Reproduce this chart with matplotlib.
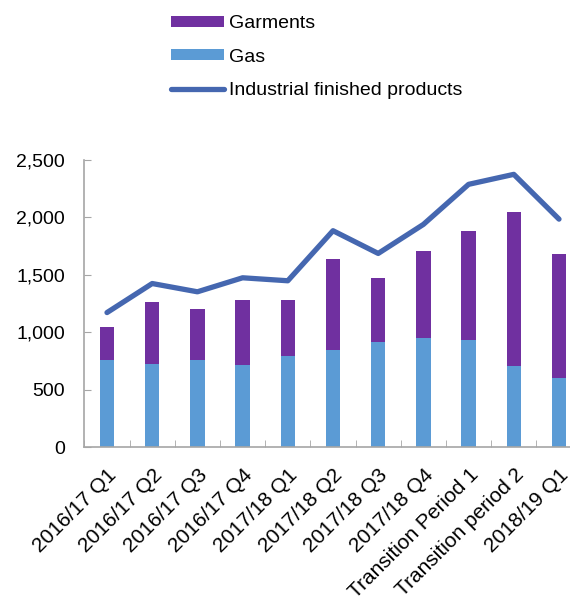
import numpy as np
import matplotlib.pyplot as plt
from matplotlib.ticker import FuncFormatter

plt.rcParams['font.family'] = ['Liberation Sans', 'DejaVu Sans']

categories = ['2016/17 Q1', '2016/17 Q2', '2016/17 Q3', '2016/17 Q4',
              '2017/18 Q1', '2017/18 Q2', '2017/18 Q3', '2017/18 Q4',
              'Transition Period 1', 'Transition period 2', '2018/19 Q1']
gas = [756, 727, 756, 712, 791, 843, 913, 948, 933, 706, 599]
garments = [285, 532, 444, 567, 488, 791, 555, 755, 948, 1338, 1084]
industrial = [1171, 1424, 1352, 1474, 1448, 1884, 1686, 1939, 2288, 2375, 1985]

c_garm = '#7030A0'
c_gas = '#5B9BD5'
c_line = '#4567B0'

fig = plt.figure(figsize=(5.7, 5.96), dpi=100)
ax = fig.add_axes([84.4 / 570, 1 - 447 / 596, 497.2 / 570, 287 / 596])

x = np.arange(len(categories))
b_gas = ax.bar(x, gas, width=0.32, color=c_gas, zorder=2)
b_garm = ax.bar(x, garments, width=0.32, bottom=gas, color=c_garm, zorder=2)
ln, = ax.plot(x, industrial, color=c_line, lw=3.8, solid_capstyle='round', zorder=3)

ax.set_xlim(-0.5, len(categories) - 0.5)
ax.set_ylim(0, 2500)
ax.set_yticks(np.arange(0, 2501, 500))
ax.yaxis.set_major_formatter(FuncFormatter(lambda v, p: f'{int(v):,}'))

ax.set_xticks(x)
ax.set_xticklabels(categories, rotation=45, ha='right', rotation_mode='anchor')
ax.set_xticks(np.arange(-0.5, len(categories), 1), minor=True)
ax.tick_params(axis='x', which='major', length=0, pad=13, labelsize=15)
ax.tick_params(axis='x', which='minor', direction='in', length=5, color='#A6A6A6')
ax.tick_params(axis='y', direction='in', length=5, color='#A6A6A6', pad=14, labelsize=14)

for s in ['top', 'right']:
    ax.spines[s].set_visible(False)
for s in ['left', 'bottom']:
    ax.spines[s].set_color('#A6A6A6')
    ax.spines[s].set_linewidth(1.2)

fig.legend([b_garm, b_gas, ln], ['Garments', 'Gas', 'Industrial finished products'],
           loc='upper left', bbox_to_anchor=(171 / 570, 1 - 15 / 596),
           frameon=False, fontsize=14, handlelength=2.7, handleheight=0.5,
           handletextpad=0.3, labelspacing=0.85, borderpad=0, borderaxespad=0)

fig.savefig('out.png', dpi=100)
